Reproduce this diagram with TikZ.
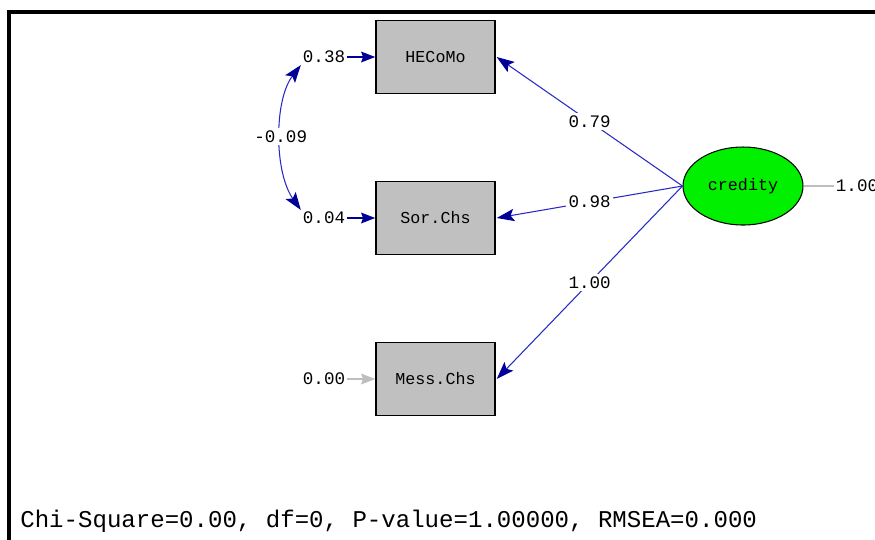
\documentclass[tikz,border=0pt]{standalone}
\usepackage{fontspec}
\newfontfamily\lisfont{Liberation Mono}
\usepackage{xcolor}
\usetikzlibrary{positioning,calc,shapes,arrows.meta}
\definecolor{pathblue}{RGB}{40,40,200}
\definecolor{tipblue}{RGB}{0,0,150}
\definecolor{boxgrey}{RGB}{192,192,192}
\definecolor{errgrey}{RGB}{190,190,190}
\definecolor{latgreen}{RGB}{0,240,0}

\begin{document}
\begin{tikzpicture}[x=0.02cm, y=-0.02cm,
		obs/.style={draw=black, fill=boxgrey, line width=0.8pt, minimum width=2.38cm, minimum height=1.46cm, inner sep=0pt, font=\lisfont\fontsize{9.5}{11}\selectfont},
		lat/.style={ellipse, draw=black, fill=latgreen, line width=0.6pt, minimum width=2.4cm, minimum height=1.56cm, inner sep=0pt, font=\lisfont\fontsize{9.5}{11}\selectfont},
		val/.style={inner sep=1pt, font=\lisfont\fontsize{10}{12}\selectfont},
		lab/.style={fill=white, inner sep=1.5pt, font=\lisfont\fontsize{10}{12}\selectfont},
		path/.style={draw=pathblue, line width=0.6pt, -{Stealth[length=10pt, width=7pt, inset=2pt, color=tipblue]}},
		errpath/.style={draw=tipblue, line width=1.2pt, -{Stealth[length=8pt, width=6pt, inset=1pt, color=tipblue]}}]
			\useasboundingbox (0,0) rectangle (875,539);
			\draw [line width=2.6pt, line cap=rect] (9,539) -- (9,12) -- (875,12);
			\node [obs] (hecomo) at (435.5,57) {HECoMo};
			\node [obs] (sorchs) at (435.5,218) {Sor.Chs};
			\node [obs] (messchs) at (435.5,379) {Mess.Chs};
			\node [lat] (credity) at (743,186) {credity};
			\node [val] (e1) at (324,57) {0.38};
			\node [val] (e2) at (324,218) {0.04};
			\node [val] (e3) at (324,379) {0.00};
			\node [val] (v1) at (857,186) {1.00};
			\draw [errpath] (e1) -- (hecomo);
			\draw [errpath] (e2) -- (sorchs);
			\draw [draw=errgrey, line width=1.2pt, -{Stealth[length=8pt, width=6pt, inset=1pt, color=errgrey]}] (e3) -- (messchs);
			\draw [errgrey, line width=0.8pt] (credity) -- (v1);
			\draw [path] (credity.west) -- node [lab] {0.79} ($(hecomo.east)+(1,0)$);
			\draw [path] (credity.west) -- node [lab] {0.98} ($(sorchs.east)+(1,0)$);
			\draw [path] (credity.west) -- node [lab] {1.00} ($(messchs.east)+(1,0)$);
			\draw [draw=pathblue, line width=0.6pt, {Stealth[length=10pt, width=7pt, inset=2pt, color=tipblue]}-{Stealth[length=10pt, width=7pt, inset=2pt, color=tipblue]}] (e1.south west) .. controls (274,100) and (274,172) .. node [lab] {-0.09} (e2.north west);
			\node [anchor=west, font=\lisfont\fontsize{13.7}{15}\selectfont, inner sep=0pt] (fit) at (20,521) {Chi-Square=0.00, df=0, P-value=1.00000, RMSEA=0.000};
		\end{tikzpicture}
\end{document}
